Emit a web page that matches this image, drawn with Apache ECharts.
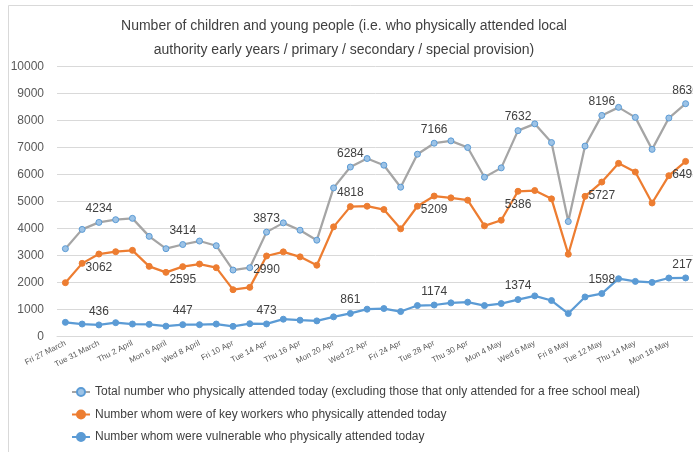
<!DOCTYPE html>
<html>
<head>
<meta charset="utf-8">
<script src="https://cdn.jsdelivr.net/npm/echarts@6/dist/echarts.min.js"></script>
<style>html,body{margin:0;padding:0;background:#fff}#c{width:693px;height:452px}</style>
</head>
<body>
<div id="c"></div>
<script>
var categories = ["Fri 27 March","Mon 30 March","Tue 31 March","Wed 1 April","Thu 2 April","Fri 3 April","Mon 6 April","Tue 7 April","Wed 8 April","Thu 9 April","Fri 10 Apr","Mon 13 Apr","Tue 14 Apr","Wed 15 Apr","Thu 16 Apr","Fri 17 Apr","Mon 20 Apr","Tue 21 Apr","Wed 22 Apr","Thu 23 Apr","Fri 24 Apr","Mon 27 Apr","Tue 28 Apr","Wed 29 Apr","Thu 30 Apr","Fri 1 May","Mon 4 May","Tue 5 May","Wed 6 May","Thu 7 May","Fri 8 May","Mon 11 May","Tue 12 May","Wed 13 May","Thu 14 May","Fri 15 May","Mon 18 May","Tue 19 May"];
var totalValues = [3260,3975,4234,4333,4383,3716,3260,3414,3543,3370,2469,2556,3873,4216,3944,3574,5512,6284,6599,6352,5537,6759,7166,7253,7006,5907,6253,7632,7883,7191,4265,7060,8196,8494,8123,6938,8099,8630];
var keyWorkerValues = [2000,2716,3062,3148,3198,2605,2383,2595,2691,2556,1741,1827,2990,3142,2957,2648,4068,4818,4833,4710,3994,4833,5209,5142,5056,4105,4315,5386,5414,5105,3056,5200,5727,6420,6099,4951,5963,6493];
var vulnerableValues = [531,469,436,519,469,457,390,447,444,469,383,481,473,648,611,586,735,861,1019,1043,932,1154,1174,1253,1278,1154,1228,1374,1512,1340,858,1472,1598,2148,2049,2012,2173,2177];
var labelledIndices = [2,7,12,17,22,27,32,37];
var seriesNames = [
  "Total number who physically attended today (excluding those that only attended for a free school meal)",
  "Number whom were of key workers who physically attended today",
  "Number whom were vulnerable who physically attended today"
];
var yTicks = [0,10000,1000];

function buildData(values, posFn) {
  return values.map(function (v, i) {
    if (labelledIndices.indexOf(i) >= 0) {
      return { value: v, label: { show: true, position: posFn(i) } };
    }
    return v;
  });
}

var labelStyle = { fontSize: 12, color: '#404040', fontFamily: 'Liberation Sans', distance: 4 };

var chart = echarts.init(document.getElementById('c'), null, { renderer: 'canvas' });
chart.setOption({
  backgroundColor: '#ffffff',
  animation: false,
  textStyle: { fontFamily: 'Liberation Sans' },
  title: {
    text: 'Number of children and young people (i.e. who physically attended local\nauthority early years / primary / secondary / special provision)',
    left: 339,
    top: 9,
    textAlign: 'center',
    textStyle: { fontSize: 14, fontWeight: 'normal', color: '#404040', lineHeight: 24, fontFamily: 'Liberation Sans' }
  },
  graphic: [{
    type: 'polyline',
    shape: { points: [[8.5, 452], [8.5, 5.5], [693, 5.5]] },
    style: { stroke: '#d9d9d9', lineWidth: 1, fill: null },
    silent: true
  }],
  legend: {
    orient: 'vertical',
    left: 66,
    top: 381,
    itemWidth: 18,
    itemHeight: 10,
    itemGap: 10.5,
    textStyle: { fontSize: 12, color: '#404040', fontFamily: 'Liberation Sans' },
    data: seriesNames
  },
  grid: { left: 57, top: 66.7, width: 637, height: 270, containLabel: false, outerBoundsMode: 'none' },
  xAxis: {
    type: 'category',
    data: categories,
    boundaryGap: true,
    axisLine: { lineStyle: { color: '#d9d9d9' } },
    axisTick: { show: false },
    axisLabel: { interval: 1, rotate: 27, fontSize: 8, color: '#595959', margin: 6, fontFamily: 'Liberation Sans' },
    splitLine: { show: false }
  },
  yAxis: {
    type: 'value',
    min: yTicks[0],
    max: yTicks[1],
    interval: yTicks[2],
    axisLine: { show: false },
    axisTick: { show: false },
    axisLabel: { fontSize: 12, color: '#595959', margin: 13, fontFamily: 'Liberation Sans', formatter: function (v) { return String(v); } },
    splitLine: { lineStyle: { color: '#d9d9d9', width: 1 } }
  },
  series: [
    {
      name: seriesNames[0],
      type: 'line',
      data: buildData(totalValues, function () { return 'top'; }),
      symbol: 'circle',
      symbolSize: 6,
      lineStyle: { color: '#a5a5a5', width: 2.25 },
      itemStyle: { color: '#9dc3e6', borderColor: '#5b9bd5', borderWidth: 1 },
      label: labelStyle,
      z: 2
    },
    {
      name: seriesNames[1],
      type: 'line',
      data: buildData(keyWorkerValues, function (i) { return i === 17 ? 'top' : 'bottom'; }),
      symbol: 'circle',
      symbolSize: 6,
      lineStyle: { color: '#ed7d31', width: 2.25 },
      itemStyle: { color: '#ed7d31', borderColor: '#ed7d31', borderWidth: 1 },
      label: labelStyle,
      z: 3
    },
    {
      name: seriesNames[2],
      type: 'line',
      data: buildData(vulnerableValues, function () { return 'top'; }),
      symbol: 'circle',
      symbolSize: 6,
      lineStyle: { color: '#5b9bd5', width: 2.25 },
      itemStyle: { color: '#5b9bd5', borderColor: '#5b9bd5', borderWidth: 1 },
      label: labelStyle,
      z: 4
    }
  ]
});
</script>
</body>
</html>
